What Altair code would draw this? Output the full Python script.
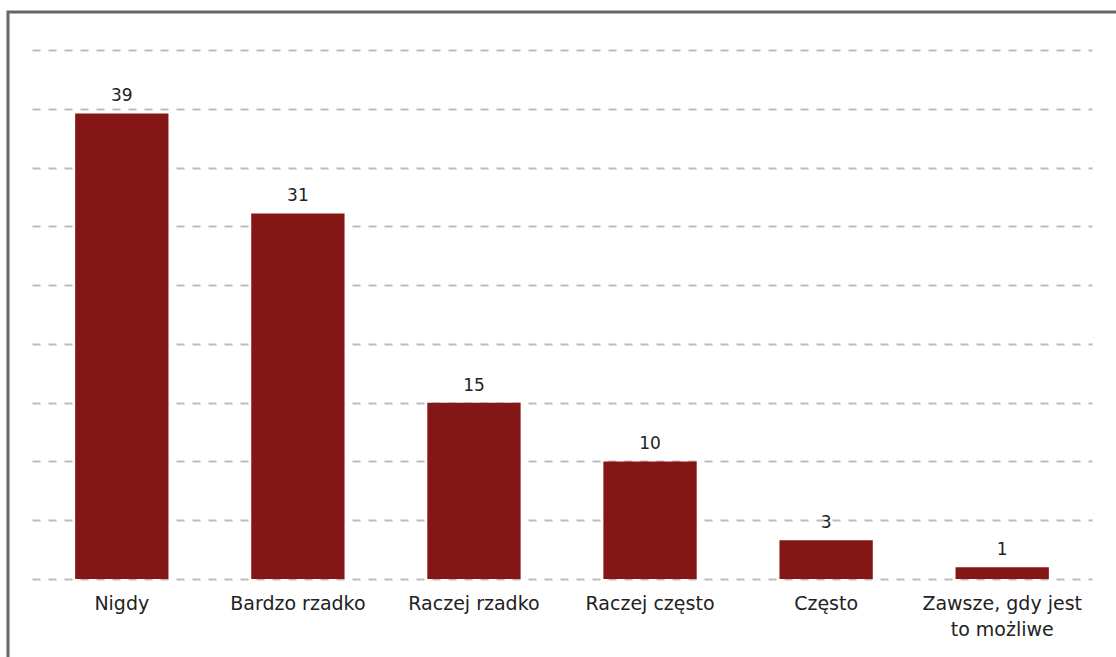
import altair as alt
import pandas as pd

categories = ["Nigdy", "Bardzo rzadko", "Raczej rzadko", "Raczej często", "Często", "Zawsze, gdy jest\nto możliwe"]
values = [39.6, 31.1, 15.0, 10.0, 3.3, 1.0]
labels = ["39", "31", "15", "10", "3", "1"]

df = pd.DataFrame({"cat": categories, "val": values, "lab": labels})

FONT = "DejaVu Sans"
TEXT = "#222222"

x = alt.X("cat:N", sort=categories, title=None,
          scale=alt.Scale(paddingInner=0.47, paddingOuter=0.245),
          axis=alt.Axis(labelAngle=0, labelFont=FONT, labelFontSize=19, labelColor=TEXT,
                        labelPadding=15, ticks=False, domain=False, labelLineHeight=26,
                        labelExpr="split(datum.label, '\\n')"))
y = alt.Y("val:Q", title=None,
          scale=alt.Scale(domain=[0, 45], nice=False),
          axis=alt.Axis(values=[0, 5, 10, 15, 20, 25, 30, 35, 40, 45], labels=False, ticks=False,
                        domain=False, grid=True, gridColor="#bbbbbb", gridDash=[8, 8],
                        gridWidth=2))

base = alt.Chart(df)

frame = base.mark_rect(fill="white", fillOpacity=0, stroke="#666666", strokeWidth=3).encode(
    x=alt.value(-24), x2=alt.value(1110), y=alt.value(-38), y2=alt.value(640)
).transform_filter("datum.cat == 'Nigdy'")

bars = base.mark_bar(color="#851616").encode(x=x, y=y)

text = base.mark_text(font=FONT, fontSize=17, color=TEXT, baseline="bottom", dy=-8).encode(
    x=alt.X("cat:N", sort=categories), y="val:Q", text="lab:N")

chart = alt.layer(frame, bars, text).properties(
    width=1060, height=529,
    autosize=alt.AutoSizeParams(type="none"),
    padding={"left": 32, "top": 50, "right": 24, "bottom": 78},
    background="white",
).configure_view(stroke=None)

chart.save("out.html", embed_options={"renderer": "svg", "actions": False})
